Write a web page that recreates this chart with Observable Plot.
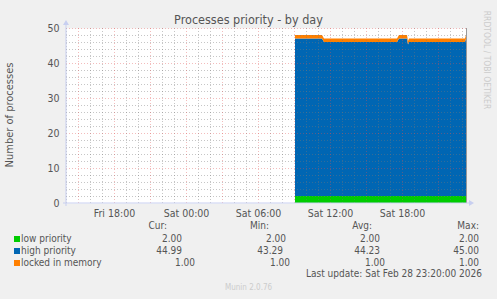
<!DOCTYPE html>
<html><head><meta charset="utf-8">
<script src="https://cdn.jsdelivr.net/npm/d3@7"></script>
<script src="https://cdn.jsdelivr.net/npm/@observablehq/plot@0.6"></script>
<style>
body{margin:0;background:#f0f0f0;}
#wrap{position:relative;width:497px;height:299px;overflow:hidden;font-family:"DejaVu Sans",sans-serif;font-stretch:condensed;color:#555;}
#wrap svg{position:absolute;left:0;top:0;}
.t{position:absolute;white-space:nowrap;line-height:12px;font-size:10px;}
.r{text-align:right;}
.sw{position:absolute;width:6px;height:6px;}
</style></head><body><div id="wrap"></div>
<script>
// ---- data ----
const times = ["2026-02-28T09:05Z","2026-02-28T11:20Z","2026-02-28T11:30Z","2026-02-28T17:35Z","2026-02-28T17:45Z","2026-02-28T18:25Z","2026-02-28T18:30Z","2026-02-28T18:35Z","2026-02-28T23:15Z","2026-02-28T23:20Z"];
const lowPriority    = [2, 2, 2, 2, 2, 2, 2, 2, 2, 2];
const highPriority   = [45, 45, 44, 44, 45, 45, 43.3, 44, 44, 45];
const lockedInMemory = [1, 1, 1, 1, 1, 1, 1, 1, 1, 1];
const seriesNames  = ["low priority", "high priority", "locked in memory"];
const seriesColors = ["#00cc00", "#0066b3", "#ff8000"];
const curValues = ["2.00", "44.99", "1.00"];
const minValues = ["2.00", "43.29", "1.00"];
const avgValues = ["2.00", "44.23", "1.00"];
const maxValues = ["2.00", "45.00", "1.00"];
const yTicks = [0, 10, 20, 30, 40, 50];
const xLabelTicks = ["2026-02-27T18:00Z","2026-02-28T00:00Z","2026-02-28T06:00Z","2026-02-28T12:00Z","2026-02-28T18:00Z"];
const xDomain = ["2026-02-27T14:00Z","2026-02-28T23:20Z"];
const titleText = "Processes priority - by day";
const yLabel = "Number of processes";
const lastUpdate = "Last update: Sat Feb 28 23:20:00 2026";

// ---- build ----
const valuesBySeries = [lowPriority, highPriority, lockedInMemory];
const rows = seriesNames.flatMap((name, s) => times.map((t, i) => ({time: new Date(t), series: name, value: valuesBySeries[s][i]})));
const start = new Date(xDomain[0]), end = new Date(xDomain[1]);
const minorX = d3.utcHour.every(1).range(start, end).filter(d => d.getUTCHours() % 3 !== 0);
const majorX = d3.utcHour.every(3).range(start, end);
const minorY = d3.range(0, 51, 2).filter(v => v % 10 !== 0);
const majorY = yTicks.filter(v => v > 0);

const plot = Plot.plot({
  width: 497, height: 299,
  marginLeft: 66, marginRight: 31, marginTop: 28, marginBottom: 96,
  style: {background: "transparent", fontFamily: "DejaVu Sans", fontStretch: "condensed", fontSize: "10.5px", color: "#555"},
  x: {type: "utc", domain: [start, end]},
  y: {domain: [0, 50]},
  color: {domain: seriesNames, range: seriesColors},
  marks: [
    Plot.frame({fill: "white", stroke: null}),
    Plot.areaY(rows, {x: "time", y: "value", fill: "series", order: seriesNames, curve: "linear"}),
    Plot.ruleX(minorX, {stroke: "#777", strokeOpacity: 0.42, strokeDasharray: "1,2"}),
    Plot.ruleY(minorY, {stroke: "#777", strokeOpacity: 0.42, strokeDasharray: "1,2"}),
    Plot.ruleX(majorX, {stroke: "#e05050", strokeOpacity: 0.38, strokeDasharray: "1,2"}),
    Plot.ruleY(majorY, {stroke: "#e05050", strokeOpacity: 0.38, strokeDasharray: "1,2"}),
    Plot.ruleX([end], {stroke: "#999"}),
    Plot.axisY({ticks: yTicks, tickSize: 0, tickPadding: 7, label: null}),
    Plot.axisX({ticks: xLabelTicks.map(d => new Date(d)), tickFormat: d3.utcFormat("%a %H:%M"), tickSize: 0, tickPadding: 6, label: null})
  ]
});
const wrap = document.getElementById("wrap");
wrap.appendChild(plot);

// axis lines with arrows
const sx = plot.scale("x"), sy = plot.scale("y");
const x0 = sx.apply(start), x1 = sx.apply(end), y0 = sy.apply(0), y1 = sy.apply(50);
const svg = d3.select(plot);
const axisColor = "#c8cff0";
svg.append("line").attr("x1", x0).attr("x2", x0).attr("y1", y0 + 3).attr("y2", y1 - 4).attr("stroke", axisColor);
svg.append("line").attr("x1", x0 - 3).attr("x2", x1 + 4).attr("y1", y0).attr("y2", y0).attr("stroke", axisColor);
svg.append("path").attr("d", `M${x0 - 3},${y1 - 3}L${x0 + 3},${y1 - 3}L${x0},${y1 - 8}Z`).attr("fill", axisColor);
svg.append("path").attr("d", `M${x1 + 3},${y0 - 3}L${x1 + 3},${y0 + 3}L${x1 + 8},${y0}Z`).attr("fill", axisColor);

// texts
function add(text, left, top, cls, extra) {
  const d = document.createElement("div");
  d.className = "t " + (cls || "");
  d.textContent = text;
  d.style.left = left + "px"; d.style.top = top + "px";
  if (extra) Object.assign(d.style, extra);
  wrap.appendChild(d);
  return d;
}
add(titleText, 0, 13, "", {width: "497px", textAlign: "center", fontSize: "12.5px", lineHeight: "14px"});
add(yLabel, 10, 115, "", {transform: "translate(-50%,-50%) rotate(-90deg)", fontSize: "11px"});
add("RRDTOOL / TOBI OETIKER", 487, 60, "", {transform: "translate(-50%,-50%) rotate(90deg)", fontSize: "8.5px", color: "#ccc"});

const rowTop = [233, 245, 257];
seriesNames.forEach((n, i) => {
  const s = document.createElement("div");
  s.className = "sw"; s.style.left = "14px"; s.style.top = (rowTop[i] + 3) + "px"; s.style.background = seriesColors[i];
  wrap.appendChild(s);
  add(n, 21, rowTop[i]);
});
const cols = [
  {head: "Cur:", headRight: 167, vals: curValues, rights: [182, 182, 195]},
  {head: "Min:", headRight: 269, vals: minValues, rights: [286, 283, 290]},
  {head: "Avg:", headRight: 372, vals: avgValues, rights: [380, 380, 385]},
  {head: "Max:", headRight: 479, vals: maxValues, rights: [479, 479, 479]}
];
cols.forEach(c => {
  add(c.head, c.headRight - 100, 220, "r", {width: "100px"});
  c.vals.forEach((v, i) => add(v, c.rights[i] - 100, rowTop[i], "r", {width: "100px"}));
});
add(lastUpdate, 482 - 300, 268, "r", {width: "300px"});
add("Munin 2.0.76", 225, 282, "", {fontSize: "8px", color: "#ccc"});
</script>
</body></html>
